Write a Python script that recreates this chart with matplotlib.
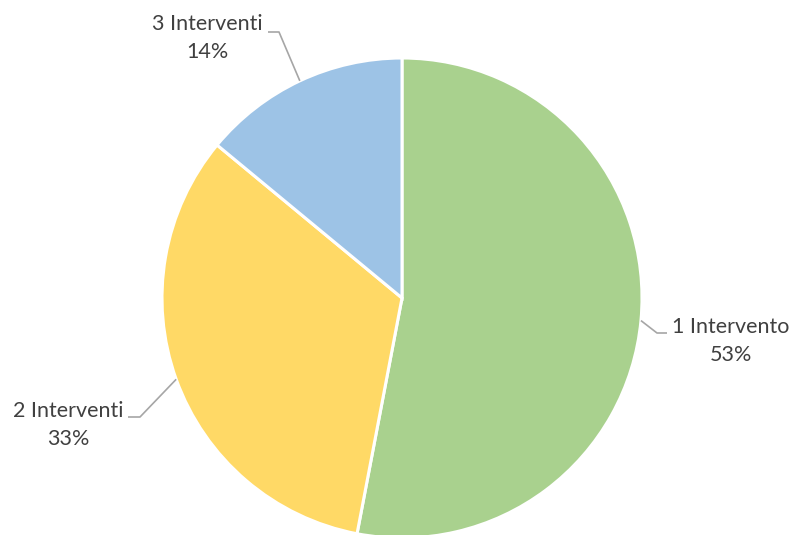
import matplotlib
matplotlib.use('Agg')

import numpy as np
import matplotlib.pyplot as plt

labels = ['1 Intervento', '2 Interventi', '3 Interventi']
shares = [53, 33, 14]
colors = ['#A9D18E', '#FFD966', '#9DC3E6']

# label text position, leader elbow and leader end (pixel layout, y up)
label_pos = [(731, 194), (68, 110), (207, 497)]
elbows = [(657, 202), (140, 118), (279, 503)]
ends = [(667, 202), (128, 118), (268, 503)]


def main():
    fig = plt.figure(figsize=(7.93, 5.35), dpi=100)
    ax = fig.add_axes([0, 0, 1, 1])

    cx, cy, r = 402, 237, 240
    wedges, _ = ax.pie(shares, colors=colors, startangle=90, counterclock=False,
                       center=(cx, cy), radius=r, frame=True,
                       wedgeprops=dict(edgecolor='white', linewidth=2.2))
    ax.set_xlim(0, 793)
    ax.set_ylim(0, 535)
    ax.set_aspect('equal')
    ax.axis('off')

    total = sum(shares)
    for w, lab, val, pos, elb, end in zip(wedges, labels, shares, label_pos, elbows, ends):
        mid = np.deg2rad((w.theta1 + w.theta2) / 2)
        px, py = cx + r * np.cos(mid), cy + r * np.sin(mid)
        ax.plot([px, elb[0], end[0]], [py, elb[1], end[1]], color='#A6A6A6',
                lw=1.2, solid_capstyle='butt')
        ax.text(pos[0], pos[1], f"{lab}\n{round(100 * val / total)}%",
                ha='center', va='center', fontsize=15.5, family='Lato',
                color='#404040', linespacing=1.45)

    fig.savefig('out.png', dpi=100, facecolor='white')
    plt.close(fig)


if __name__ == "__main__":
    main()
